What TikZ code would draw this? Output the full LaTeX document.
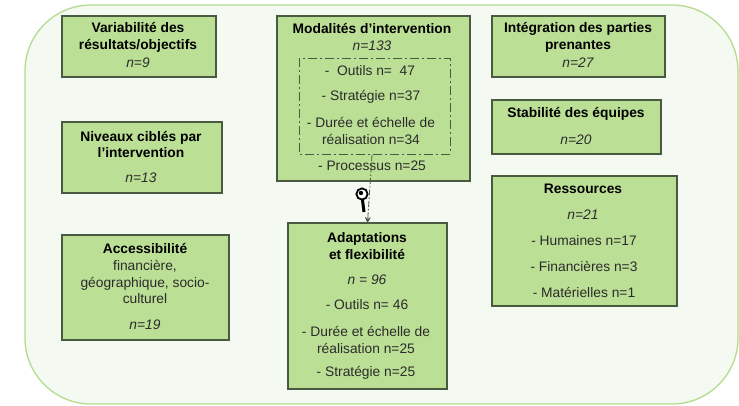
\documentclass[tikz,border=0pt]{standalone}
\usepackage{fontspec}
\setmainfont{Liberation Sans}
\usetikzlibrary{arrows.meta}
\definecolor{boxg}{HTML}{BCDF96}
\definecolor{edge}{HTML}{4A5A40}
\definecolor{outerg}{HTML}{B5DC8E}
\definecolor{bgg}{HTML}{F4F9F1}
\definecolor{txt}{HTML}{2B2B2B}
\tikzset{
  gbox/.style={draw=edge,line width=1.5pt,fill=boxg,anchor=north west,inner sep=0pt,outer sep=0pt},
  lbl/.style={align=center,text=txt,font=\fontsize{13.8}{16.8}\selectfont,inner sep=0pt},
  hd/.style={align=center,text=black,font=\fontsize{13.8}{16.8}\selectfont\bfseries,inner sep=0pt},
  num/.style={align=center,text=txt,font=\fontsize{13.8}{16.8}\selectfont\itshape,inner sep=0pt},
}
\newcommand{\gboxat}[5]{\node[gbox,minimum width=#4pt-#2pt,minimum height=#5pt-#3pt] (#1) at (#2,#3) {};}
\begin{document}
\begin{tikzpicture}[x=1pt,y=-1pt]
\useasboundingbox (0,0) rectangle (739,405);
\fill[white] (0,0) rectangle (739,405);
\draw[outerg,line width=1.3pt,fill=bgg,rounded corners=66pt] (25,5) rectangle (738,404);
% left column
\gboxat{a}{62}{16}{216}{77}
\node[hd] at (138,37.5) {Variabilité des\\résultats/objectifs};
\node[num] at (138,63) {n=9};
\gboxat{b}{62}{122}{222}{193}
\node[hd] at (141,144.5) {Niveaux ciblés par\\l’intervention};
\node[num] at (141,178) {n=13};
\gboxat{c}{62}{235}{229}{340}
\node[hd] at (145,249) {Accessibilité};
\node[lbl] at (145,282) {financière,\\géographique, socio-\\culturel};
\node[num] at (145,325) {n=19};
% centre
\gboxat{m}{277}{16}{470}{181}
\node[hd] at (372,29) {Modalités d’intervention};
\node[num] at (372,46) {n=133};
\draw[edge,line width=1pt,dash pattern=on 9pt off 3pt on 2pt off 3pt] (299,58) rectangle (450,154);
\node[lbl] at (370,71) {-\ \ Outils n=\ \ 47};
\node[lbl] at (371,97) {- Stratégie n=37};
\node[lbl] at (371,131) {- Durée et échelle de\\réalisation n=34};
\node[lbl] at (372,166) {- Processus n=25};
\gboxat{d}{288}{223}{447}{389}
\node[hd] at (367,246) {Adaptations\\et flexibilité};
\node[num] at (367,280) {n = 96};
\node[lbl] at (367,305) {- Outils n= 46};
\node[lbl] at (366,340) {- Durée et échelle de\\réalisation n=25};
\node[lbl] at (366,373) {- Stratégie n=25};
\coordinate (ms) at (372,155);
\draw[edge,line width=.8pt,dash pattern=on 6pt off 2pt on 1.5pt off 2pt,-{Stealth[length=6pt,width=6pt]}] (ms) -- (d.north);
% magnifier icon
\draw[black,line width=1.8pt,fill=white] (362,194) circle (5.6pt);
\fill[black] (361,193) circle (2.2pt);
\draw[black,line width=3pt] (362.5,200) -- (364,212);
% right column
\gboxat{e}{492}{16}{665}{77}
\node[hd] at (578,37.5) {Intégration des parties\\prenantes};
\node[num] at (578,63) {n=27};
\gboxat{f}{492}{100}{661}{154}
\node[hd] at (576,114) {Stabilité des équipes};
\node[num] at (576,140) {n=20};
\gboxat{g}{492}{176}{677}{306}
\node[hd] at (583,189) {Ressources};
\node[num] at (583,215) {n=21};
\node[lbl] at (584,241) {- Humaines n=17};
\node[lbl] at (584,266) {- Financières n=3};
\node[lbl] at (584,292) {- Matérielles n=1};
\end{tikzpicture}
\end{document}
